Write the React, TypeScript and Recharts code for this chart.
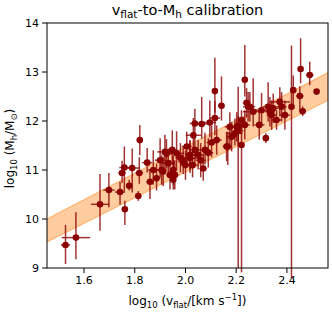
import React from 'react';
import { ComposedChart, Area, Scatter, XAxis, YAxis, ErrorBar } from 'recharts';

// log10 v_flat of each galaxy
const vFlat = [
  1.527, 1.568, 1.663, 1.698, 1.742, 1.750, 1.759, 1.761, 1.778, 1.790,
  1.814, 1.818, 1.820, 1.849, 1.860, 1.873, 1.886, 1.900, 1.906, 1.912,
  1.919, 1.925, 1.932, 1.939, 1.948, 1.952, 1.952, 1.958, 1.965, 1.991,
  2.005, 2.018, 2.028, 2.031, 2.037, 2.037, 2.050, 2.064, 2.070, 2.077,
  2.096, 2.103, 2.116, 2.116, 2.123, 2.142, 2.162, 2.175, 2.182, 2.195,
  2.202, 2.208, 2.208, 2.221, 2.221, 2.234, 2.234, 2.241, 2.247, 2.254,
  2.267, 2.291, 2.300, 2.317, 2.326, 2.333, 2.340, 2.346, 2.359, 2.372,
  2.379, 2.392, 2.418, 2.425, 2.451, 2.454, 2.462, 2.490, 2.517, 2.000,
  2.018, 2.167, 1.980, 2.060, 2.090,
];
// log10 M_h
const logMh = [
  9.47, 9.62, 10.30, 10.59, 10.55, 10.94, 11.05, 10.20, 10.68, 11.04,
  10.47, 10.94, 11.61, 11.15, 10.76, 11.00, 10.83, 11.20, 11.00, 10.97,
  11.37, 11.33, 11.14, 10.90, 11.41, 11.00, 10.80, 10.90, 11.34, 11.17,
  11.48, 11.24, 11.10, 11.71, 11.95, 11.41, 11.31, 11.94, 11.03, 11.41,
  11.97, 11.56, 12.06, 12.61, 11.61, 12.31, 11.48, 11.88, 11.68, 11.75,
  11.88, 11.80, 11.90, 12.02, 11.51, 11.92, 12.84, 12.37, 12.29, 12.29,
  12.19, 11.92, 12.22, 11.65, 12.29, 12.19, 12.12, 12.26, 12.02, 12.39,
  12.29, 12.12, 12.29, 12.63, 12.51, 13.06, 12.20, 12.94, 12.60, 11.10,
  11.31, 11.48, 11.25, 11.20, 11.35,
];
// x error (symmetric)
const vErr = [
  0.018, 0.056, 0.036, 0.022, 0.020, 0.015, 0.020, 0.012, 0.010, 0.030,
  0.010, 0.015, 0.012, 0.020, 0.015, 0.020, 0.015, 0.020, 0.020, 0.010,
  0.030, 0.020, 0.025, 0.015, 0.020, 0.010, 0.010, 0.015, 0.030, 0.020,
  0.020, 0.030, 0.020, 0.030, 0.020, 0.020, 0.020, 0.020, 0.015, 0.020,
  0.025, 0.020, 0.020, 0.010, 0.020, 0.012, 0.015, 0.020, 0.020, 0.030,
  0.020, 0.020, 0.010, 0.010, 0.010, 0.020, 0.010, 0.015, 0.020, 0.020,
  0.040, 0.020, 0.030, 0.010, 0.020, 0.020, 0.020, 0.020, 0.020, 0.040,
  0.020, 0.020, 0.010, 0.010, 0.015, 0.010, 0.012, 0.015, 0.005, 0.020,
  0.020, 0.015, 0.020, 0.020, 0.020,
];
// y error below
const mErrLow = [
  0.39, 0.44, 0.54, 0.35, 0.26, 0.20, 0.49, 0.32, 0.10, 0.50,
  0.10, 0.22, 0.31, 0.20, 0.35, 0.30, 0.25, 0.35, 0.30, 0.30,
  0.40, 0.30, 0.30, 0.30, 0.30, 0.30, 0.20, 0.30, 0.35, 0.25,
  0.30, 0.30, 0.25, 0.30, 0.30, 0.30, 0.30, 0.30, 0.25, 0.30,
  0.30, 0.30, 0.35, 0.44, 0.30, 0.30, 0.30, 0.35, 0.30, 0.25,
  0.30, 0.30, 2.90, 0.20, 2.60, 0.30, 0.34, 0.30, 0.30, 0.30,
  0.30, 0.30, 0.30, 0.10, 0.30, 0.30, 0.30, 0.30, 0.20, 0.30,
  0.30, 0.30, 3.50, 0.30, 0.30, 0.29, 0.10, 0.21, 0.05, 0.30,
  0.30, 0.38, 0.30, 0.35, 0.30,
];
// y error above
const mErrHigh = [
  0.41, 0.52, 0.62, 0.35, 0.21, 0.25, 0.43, 0.17, 0.12, 0.40,
  0.10, 0.32, 0.31, 0.30, 0.25, 0.40, 0.30, 0.45, 0.30, 0.30,
  0.35, 0.30, 0.30, 0.30, 0.40, 0.30, 0.40, 0.30, 0.45, 0.30,
  0.30, 0.35, 0.30, 0.35, 0.30, 0.30, 0.30, 0.55, 0.30, 0.35,
  0.45, 0.35, 0.35, 0.68, 0.30, 0.60, 0.30, 0.30, 0.30, 0.30,
  0.30, 0.30, 0.80, 0.20, 0.40, 0.30, 0.71, 0.30, 0.30, 0.30,
  0.68, 0.30, 0.35, 0.10, 0.50, 0.30, 0.30, 0.30, 0.20, 0.30,
  0.30, 0.30, 1.25, 0.30, 0.20, 0.63, 0.10, 0.27, 0.05, 0.30,
  0.30, 0.30, 0.30, 0.35, 0.30,
];

// calibration band (lower / upper edge) at the axis ends
const bandX = [1.454, 2.562];
const bandLow = [9.53, 12.42];
const bandHigh = [10.0, 12.99];

const xTicks = [1.6, 1.8, 2.0, 2.2, 2.4];
const yTicks = [9, 10, 11, 12, 13, 14];
const xDomain = [1.454, 2.562];
const yDomain = [9, 14];

const bandData = bandX.map((x, i) => ({ x, band: [bandLow[i], bandHigh[i]] }));
const points = vFlat.map((x, i) => ({
  x,
  y: logMh[i],
  ex: vErr[i],
  ey: [mErrLow[i], mErrHigh[i]],
}));

const FONT = 'DejaVu Sans, sans-serif';
const RED = '#8b0000';

const Dot = (props: any) => {
  const { cx, cy } = props;
  if (cx == null || cy == null) return null;
  return <circle cx={cx} cy={cy} r={3.3} fill={RED} />;
};

export default function App() {
  const W = 332;
  const H = 313;
  const left = 47;
  const top = 23;
  const right = 328;
  const bottom = 268;
  return (
    <div style={{ position: 'absolute', left: 0, top: 0, width: W, height: H, background: '#fff' }}>
      <ComposedChart
        width={W}
        height={H}
        data={bandData}
        margin={{ top: top, right: W - right, bottom: 0, left: 0 }}
      >
        <XAxis
          dataKey="x"
          type="number"
          domain={xDomain}
          ticks={xTicks}
          allowDataOverflow
          height={H - bottom}
          tickSize={5}
          tickMargin={3}
          axisLine={false}
          tickLine={{ stroke: '#000' }}
          tick={{ fill: '#000', fontSize: 11, fontFamily: FONT }}
          tickFormatter={(v: number) => v.toFixed(1)}
        />
        <YAxis
          type="number"
          domain={yDomain}
          ticks={yTicks}
          allowDataOverflow
          width={left}
          tickSize={5}
          tickMargin={3}
          axisLine={false}
          tickLine={{ stroke: '#000' }}
          tick={{ fill: '#000', fontSize: 11, fontFamily: FONT }}
        />
        <Area
          dataKey="band"
          type="linear"
          fill="#ff7f0e"
          fillOpacity={0.4}
          stroke="#ff7f0e"
          strokeOpacity={0.45}
          strokeWidth={1.2}
          isAnimationActive={false}
          dot={false}
          activeDot={false}
        />
        <Scatter data={points} dataKey="y" shape={<Dot />} isAnimationActive={false}>
          <ErrorBar dataKey="ey" direction="y" width={0} stroke={RED} strokeWidth={1.5} strokeOpacity={0.8} isAnimationActive={false} />
          <ErrorBar dataKey="ex" direction="x" width={0} stroke={RED} strokeWidth={1.5} strokeOpacity={0.8} isAnimationActive={false} />
        </Scatter>
      </ComposedChart>
      <svg
        width={W}
        height={H}
        style={{ position: 'absolute', left: 0, top: 0, pointerEvents: 'none' }}
        fontFamily={FONT}
      >
        <rect x={left} y={top} width={right - left} height={bottom - top} fill="none" stroke="#000" strokeWidth={1} />
        <text x={(left + right) / 2} y={15} textAnchor="middle" fontSize={14.5} fill="#000">
          v<tspan fontSize={10.5} dy={3}>flat</tspan>
          <tspan dy={-3}>-to-M</tspan>
          <tspan fontSize={10.5} dy={3}>h</tspan>
          <tspan dy={-3}> calibration</tspan>
        </text>
        <text x={(left + right) / 2} y={305} textAnchor="middle" fontSize={12} fill="#000">
          log<tspan fontSize={8.5} dy={3}>10</tspan>
          <tspan dy={-3}> (v</tspan>
          <tspan fontSize={8.5} dy={3}>flat</tspan>
          <tspan dy={-3}>/[km s</tspan>
          <tspan fontSize={8.5} dy={-5}>−1</tspan>
          <tspan dy={5}>])</tspan>
        </text>
        <text
          transform={`translate(13.5, ${(top + bottom) / 2 + 3}) rotate(-90)`}
          textAnchor="middle"
          fontSize={12}
          fill="#000"
        >
          log<tspan fontSize={8.5} dy={3}>10</tspan>
          <tspan dy={-3}> (M</tspan>
          <tspan fontSize={8.5} dy={3}>h</tspan>
          <tspan dy={-3}>/M</tspan>
          <tspan fontSize={8.5} dy={3}>⊙</tspan>
          <tspan dy={-3}>)</tspan>
        </text>
      </svg>
    </div>
  );
}
